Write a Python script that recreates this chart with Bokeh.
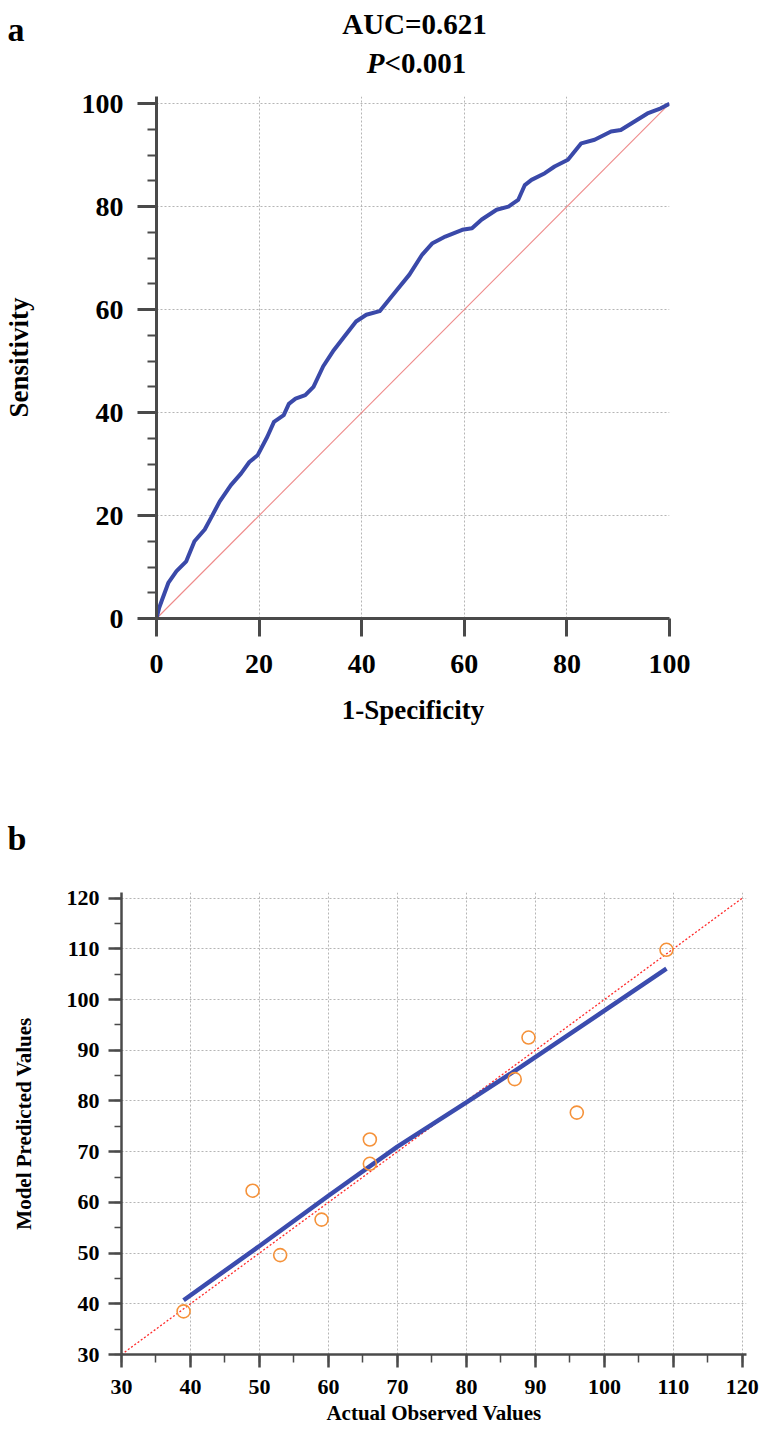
from bokeh.plotting import figure
from bokeh.models import Label, SingleIntervalTicker, Range1d
from bokeh.embed import file_html
from bokeh.resources import INLINE

FONT = "Liberation Serif"

# ---------------- Panel a: ROC curve ----------------
roc_fpr = [0, 0.5, 1, 2.3, 3.9, 5.8, 7.4, 9.4, 10.6, 12.3, 14.5, 16.5, 18.1, 19.7,
           21.6, 22.9, 24.8, 25.8, 27.1, 29.0, 30.6, 32.5, 34.4, 36.4, 38.9, 40.9,
           43.5, 45.4, 46.7, 49.3, 51.8, 53.8, 56.3, 59.6, 61.5, 63.4, 66.3, 68.6,
           70.5, 71.8, 73.1, 75.7, 77.6, 80.2, 82.8, 85.4, 88.6, 90.5, 93.1, 95.7,
           98.3, 100]
roc_tpr = [0, 2, 3.4, 6.9, 9.2, 11.1, 15, 17.3, 19.5, 22.7, 25.9, 28.2, 30.4, 31.7,
           35.3, 38.2, 39.5, 41.7, 42.7, 43.4, 45, 49, 51.9, 54.5, 57.7, 59,
           59.7, 62, 63.6, 66.8, 70.7, 72.9, 74.2, 75.5, 75.8, 77.5, 79.4, 80,
           81.3, 84.2, 85.2, 86.5, 87.8, 89.1, 92.3, 93, 94.6, 94.9, 96.5, 98.1,
           99.1, 100]
chance_line = [0, 100]
auc_text = "AUC=0.621"
p_letter = "P"
p_rest = "<0.001"

# ---------------- Panel b: calibration scatter ----------------
observed = [39, 49, 53, 59, 66, 66, 87, 89, 96, 109]
predicted = [38.5, 62.3, 49.6, 56.6, 72.4, 67.6, 84.3, 92.5, 77.7, 109.8]
fit_x = [39, 50, 60, 70, 80, 88, 100, 109]
fit_y = [40.7, 51.4, 61.3, 71, 79.7, 86.8, 97.8, 106.1]
identity_line = [30, 120]

W = 760


def style_axis(ax, tick_size, label_size, tick_out, minor_out, standoff,
               label_standoff, line_w):
    ax.axis_line_color = "#4a4a4a"
    ax.axis_line_width = line_w
    ax.major_tick_line_color = "#4a4a4a"
    ax.major_tick_line_width = line_w
    ax.minor_tick_line_color = "#4a4a4a"
    ax.minor_tick_line_width = max(1.5, line_w - 1)
    ax.major_tick_in = 0
    ax.major_tick_out = tick_out
    ax.minor_tick_in = 0
    ax.minor_tick_out = minor_out
    ax.major_label_text_font = FONT
    ax.major_label_text_font_style = "bold"
    ax.major_label_text_font_size = tick_size
    ax.major_label_text_color = "#000000"
    ax.major_label_standoff = standoff
    ax.axis_label_text_font = FONT
    ax.axis_label_text_font_style = "bold"
    ax.axis_label_text_font_size = label_size
    ax.axis_label_text_color = "#000000"
    ax.axis_label_standoff = label_standoff


def style_grid(p):
    for g in (p.xgrid[0], p.ygrid[0]):
        g.grid_line_color = "#b5b5b5"
        g.grid_line_dash = "2 2"
        g.grid_line_width = 1


def header(height):
    h = figure(width=W, height=height, x_range=Range1d(0, W), y_range=Range1d(height, 0),
               x_axis_type=None, y_axis_type=None, output_backend="svg",
               toolbar_location=None, min_border=0, title=None)
    h.outline_line_color = None
    h.xgrid.visible = False
    h.ygrid.visible = False
    return h


def lab(text, x, y, size, style="bold", align="left"):
    return Label(x=x, y=y, text=text, text_font=FONT, text_font_style=style,
                 text_font_size=size, text_align=align, text_baseline="alphabetic",
                 text_color="#000000")


# header of panel a (title and panel letter)
head_a = header(88)
head_a.add_layout(lab("a", 7, 29, "34px"))
head_a.add_layout(lab(auc_text, 414, 23, "29px", align="center"))
head_a.add_layout(lab(p_letter, 384, 62, "29px", style="bold italic", align="right"))
head_a.add_layout(lab(p_rest, 384, 62, "29px"))

pa = figure(width=W, height=648, x_range=Range1d(0, 100), y_range=Range1d(0, 101.4),
            output_backend="svg", toolbar_location=None, title=None,
            min_border_left=152, min_border_right=91, min_border_top=8,
            min_border_bottom=118)
pa.outline_line_color = None
pa.xaxis.ticker = SingleIntervalTicker(interval=20, num_minor_ticks=0)
pa.yaxis.ticker = SingleIntervalTicker(interval=20, num_minor_ticks=4)
pa.xaxis.axis_label = "1-Specificity"
pa.yaxis.axis_label = "Sensitivity"
style_axis(pa.xaxis[0], "28px", "27px", 18, 0, 18, 19, 3)
style_axis(pa.yaxis[0], "28px", "27px", 19, 9, 14, 45, 3)
style_grid(pa)

pa.line(chance_line, chance_line, line_color="#ec7c7c", line_width=1.1, line_alpha=0.9)
pa.line(roc_fpr, roc_tpr, line_color="#3a49a9", line_width=4, line_join="round")

# header of panel b (panel letter)
head_b = header(144)
head_b.add_layout(lab("b", 7, 102, "34px"))

pb = figure(width=W, height=551, x_range=Range1d(30, 120.6), y_range=Range1d(30, 121.1),
            output_backend="svg", toolbar_location=None, title=None,
            min_border_left=121, min_border_right=14, min_border_top=12,
            min_border_bottom=77)
pb.outline_line_color = None
pb.xaxis.ticker = SingleIntervalTicker(interval=10, num_minor_ticks=2)
pb.yaxis.ticker = SingleIntervalTicker(interval=10, num_minor_ticks=2)
pb.xaxis.axis_label = "Actual Observed Values"
pb.yaxis.axis_label = "Model Predicted Values"
style_axis(pb.xaxis[0], "22px", "21px", 13, 8, 12, 4, 2.5)
style_axis(pb.yaxis[0], "22px", "21px", 13, 7, 9, 28, 2.5)
style_grid(pb)

pb.line(identity_line, identity_line, line_color="#ff2a2a", line_width=1.3, line_dash="2 2")
pb.line(fit_x, fit_y, line_color="#3b4cae", line_width=4.5)
pb.scatter(observed, predicted, size=13, marker="circle", fill_color=None,
           line_color="#f5923a", line_width=1.6)

open("out.html", "w").write(file_html([head_a, pa, head_b, pb], INLINE))
